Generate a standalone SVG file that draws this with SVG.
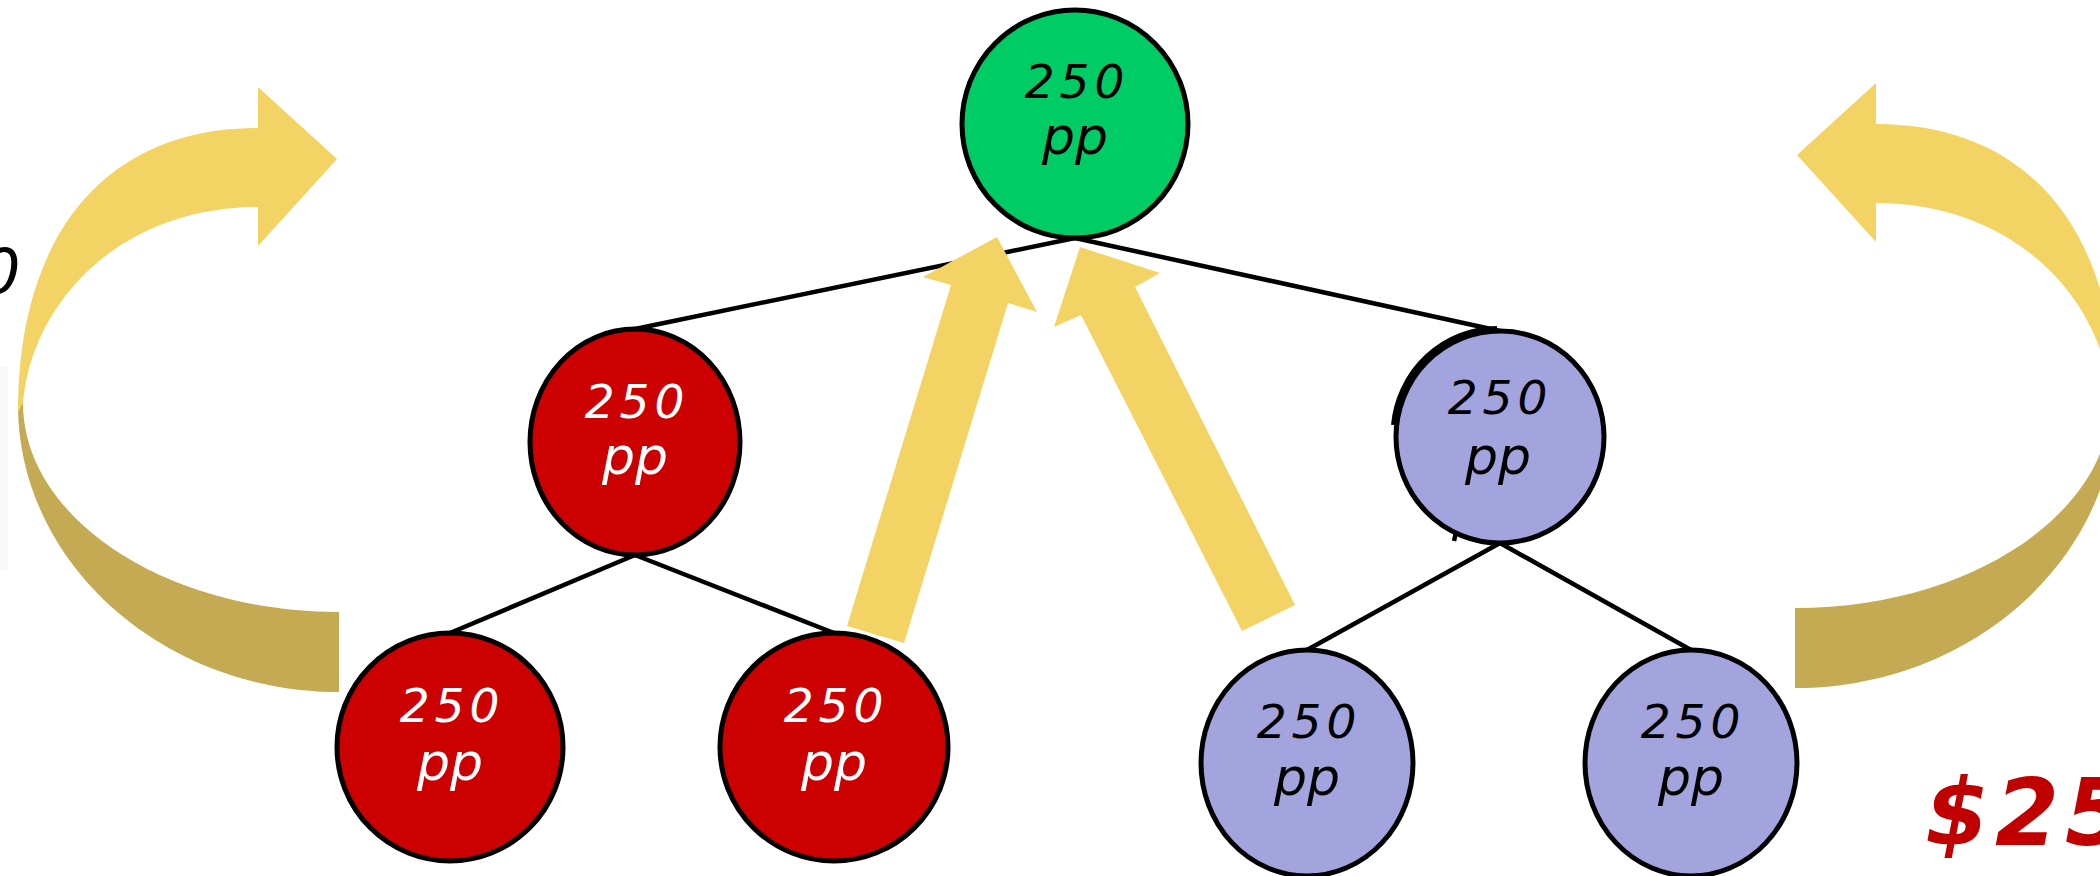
<svg xmlns="http://www.w3.org/2000/svg" width="2100" height="876" viewBox="0 0 2100 876">
<style>
.node{stroke:#000;stroke-width:5}
.red{fill:#CC0000}
.green{fill:#00CC66}
.blue{fill:#A3A3DE}
.lbl{font-family:"DejaVu Sans",sans-serif;font-style:italic;text-anchor:middle}
.num{font-size:47px;letter-spacing:5px}
.pp{font-size:52px}
.wt{fill:#FFFFFF}
.bk{fill:#000000}
.edge{stroke:#000;stroke-width:4.5;fill:none}
.lite{fill:#F3D363}
.dark{fill:#C4AA52}
</style>
<defs>
<g id="loop">
<path class="dark" d="M18,405 C18,562 162,692 339,692 L339,612 C165,612 23,518 23,403 Z"/>
<path class="lite" d="M258,128 C105,128 18,235 18,412 L23,403 C32,300 122,207 258,207 L258,246 L337,159 L258,87 Z"/>
</g>
</defs>
<rect x="0" y="367" width="8" height="203" fill="#F7F8F8"/>
<text x="-19" y="293" font-family="DejaVu Sans,sans-serif" font-style="italic" font-size="62" fill="#000">0</text>
<g id="loop-left"><use href="#loop"/></g>
<g id="loop-right"><use href="#loop" transform="translate(2134,-4) scale(-1,1)"/></g>
<g id="connectors">
<line class="edge" x1="1075" y1="238" x2="635" y2="329"/>
<line class="edge" x1="1075" y1="238" x2="1500" y2="331"/>
<line class="edge" x1="635" y1="555" x2="450" y2="633"/>
<line class="edge" x1="635" y1="555" x2="834" y2="633"/>
<line class="edge" x1="1500" y1="543" x2="1307" y2="650"/>
<line class="edge" x1="1500" y1="543" x2="1691" y2="650"/>
<path class="edge" d="M1457,528 L1454,541" stroke-width="3"/>
</g>
<g id="arrow-up-left"><polygon class="lite" points="847,626 951,285 923,277 997,237 1037,312 1008,303 904,643"/></g>
<g id="arrow-up-right"><polygon class="lite" points="1242,631 1081,315 1054,327 1080,247 1160,273 1135,287 1295,605"/></g>
<g id="node-top">
<ellipse class="node green" cx="1075" cy="124" rx="113" ry="114"/>
<text class="lbl num bk" x="1077" y="98">250</text>
<text class="lbl pp bk" x="1075" y="154">pp</text>
</g>
<g id="node-mid-left">
<ellipse class="node red" cx="635" cy="442" rx="105" ry="113"/>
<text class="lbl num wt" x="637" y="418">250</text>
<text class="lbl pp wt" x="635" y="474">pp</text>
</g>
<g id="node-mid-right">
<path d="M1394,425 A104,106 0 0 1 1497,329" fill="none" stroke="#000" stroke-width="6"/>
<ellipse class="node blue" cx="1500" cy="437" rx="104" ry="106"/>
<text class="lbl num bk" x="1500" y="414">250</text>
<text class="lbl pp bk" x="1498" y="474">pp</text>
</g>
<g id="node-bottom-1">
<ellipse class="node red" cx="450" cy="747" rx="113" ry="114"/>
<text class="lbl num wt" x="452" y="722">250</text>
<text class="lbl pp wt" x="450" y="780">pp</text>
</g>
<g id="node-bottom-2">
<ellipse class="node red" cx="834" cy="747" rx="114" ry="114"/>
<text class="lbl num wt" x="836" y="722">250</text>
<text class="lbl pp wt" x="834" y="780">pp</text>
</g>
<g id="node-bottom-3">
<ellipse class="node blue" cx="1307" cy="763" rx="106" ry="113"/>
<text class="lbl num bk" x="1309" y="738">250</text>
<text class="lbl pp bk" x="1307" y="795">pp</text>
</g>
<g id="node-bottom-4">
<ellipse class="node blue" cx="1691" cy="763" rx="106" ry="113"/>
<text class="lbl num bk" x="1693" y="738">250</text>
<text class="lbl pp bk" x="1691" y="795">pp</text>
</g>
<text x="1925" y="845" font-family="DejaVu Sans,sans-serif" font-weight="bold" font-style="italic" font-size="92" letter-spacing="6" fill="#C00000">$25</text>
</svg>
